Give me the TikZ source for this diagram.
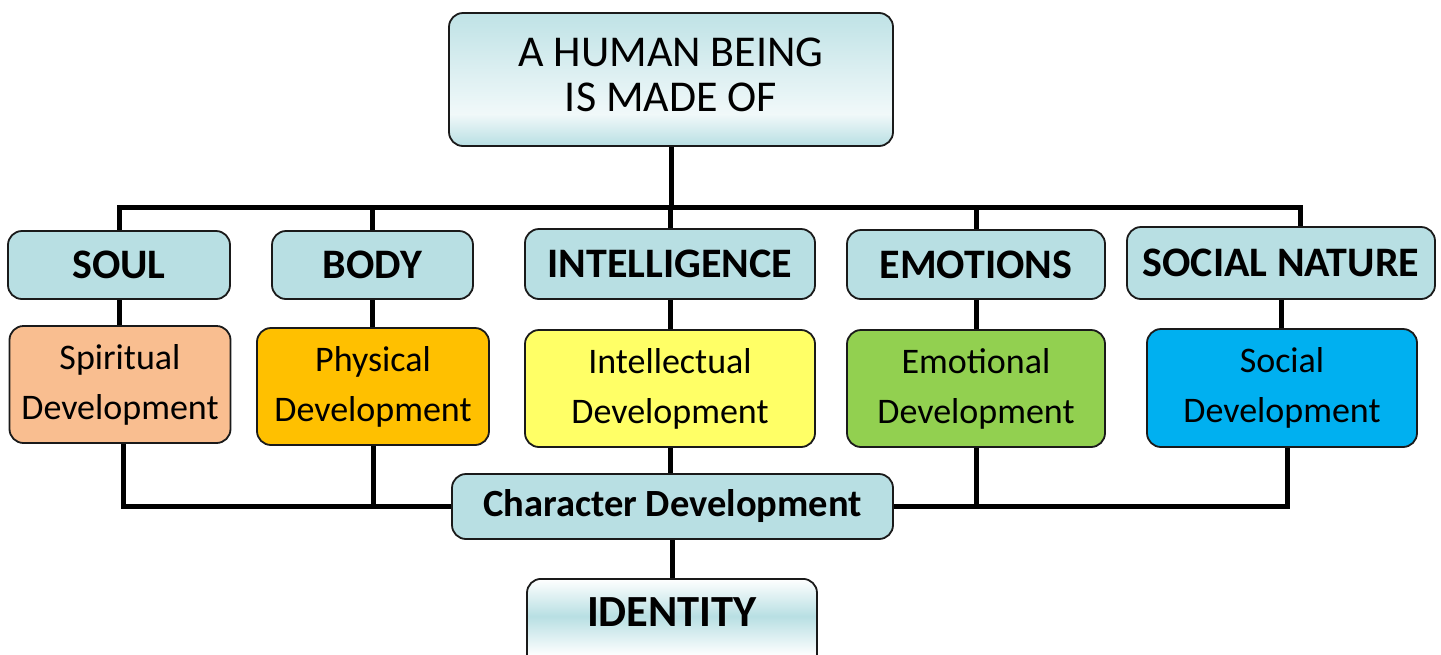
\documentclass[tikz,border=0pt]{standalone}
\usepackage{fontspec}
\setmainfont{Carlito}
\usetikzlibrary{backgrounds}
\definecolor{catblue}{HTML}{B8DFE3}
\definecolor{spircol}{HTML}{F9BE90}
\definecolor{physcol}{HTML}{FFC000}
\definecolor{intcol}{HTML}{FFFF66}
\definecolor{emocol}{HTML}{92D050}
\definecolor{soccol}{HTML}{00B0F0}
\definecolor{edge}{HTML}{1A1A1A}
\pgfdeclareverticalshading{topshade}{100bp}{color(0bp)=(catblue); color(25bp)=(catblue); color(37bp)=(white!80!catblue); color(75bp)=(catblue!90!white); color(100bp)=(catblue!90!white)}
\pgfdeclareverticalshading{idshade}{100bp}{color(0bp)=(white); color(40bp)=(white); color(58bp)=(catblue); color(75bp)=(white); color(100bp)=(white)}
\tikzset{
  box/.style={draw=edge, line width=1.8pt, rounded corners=14pt, inner sep=0pt, align=center},
  catbox/.style={box, fill=catblue, font=\fontsize{42}{48}\selectfont\bfseries},
  devbox/.style={box, fill=#1, font=\fontsize{36}{50}\selectfont},
  conn/.style={line width=5pt, black},
}
\begin{document}
\begin{tikzpicture}[x=1pt,y=-1pt]
\useasboundingbox (0,0) rectangle (1441,654);
\clip (0,0) rectangle (1441,654);
\node[box, shading=topshade, minimum width=444, minimum height=133, text depth=9pt, font=\fontsize{44}{45}\selectfont] (top) at (671,79.5) {A HUMAN BEING\\IS MADE OF};
\node[catbox, minimum width=222, minimum height=68] (soul) at (119,265) {SOUL};
\node[catbox, minimum width=201, minimum height=68] (body) at (372.5,265) {BODY};
\node[catbox, minimum width=290, minimum height=70] (intel) at (670,264) {INTELLIGENCE};
\node[catbox, minimum width=258, minimum height=69] (emot) at (976,264.5) {EMOTIONS};
\node[catbox, minimum width=308, minimum height=72] (socn) at (1281,263) {SOCIAL NATURE};
\node[devbox=spircol, minimum width=221, minimum height=117] (spir) at (120,384.5) {Spiritual\\Development};
\node[devbox=physcol, minimum width=232, minimum height=117] (phys) at (373,386.5) {Physical\\Development};
\node[devbox=intcol, minimum width=290, minimum height=117] (intd) at (670,388.5) {Intellectual\\Development};
\node[devbox=emocol, minimum width=258, minimum height=117] (emod) at (976,388.5) {Emotional\\Development};
\node[devbox=soccol, minimum width=270, minimum height=118] (socd) at (1282,388) {Social\\Development};
\node[catbox, font=\fontsize{38.5}{44}\selectfont\bfseries, minimum width=441, minimum height=65] (char) at (672.5,506.5) {Character Development};
\node[box, shading=idshade, anchor=north, minimum width=290, minimum height=110, text height=28pt, text depth=42pt, font=\fontsize{44.5}{50}\selectfont\bfseries] (ident) at (672,578) {IDENTITY};
\coordinate (bar) at (0,207);
\begin{scope}[on background layer]
\draw[conn] (top.south) -- (top.south |- bar);
\draw[conn] (soul.north) -- (soul.north |- bar) -| ([xshift=19pt]socn.north);
\draw[conn] (body.north) -- (body.north |- bar);
\draw[conn] (intel.north) -- (intel.north |- bar);
\draw[conn] (emot.north) -- (emot.north |- bar);
\draw[conn] (soul.south) -- (spir.north -| soul.south);
\draw[conn] (body.south) -- (phys.north -| body.south);
\draw[conn] (intel.south) -- (intd.north);
\draw[conn] (emot.south) -- (emod.north -| emot.south);
\draw[conn] (socn.south) -- (socd.north -| socn.south);
\draw[conn] ([xshift=3pt]spir.south) |- (char.west);
\draw[conn] (phys.south) -- (phys.south |- char.west);
\draw[conn] (intd.south) -- (char.north -| intd.south);
\draw[conn] (emod.south) -- (emod.south |- char.east);
\draw[conn] (char.east) -| ([xshift=5pt]socd.south);
\draw[conn] (char.south -| ident.north) -- (ident.north);
\end{scope}
\end{tikzpicture}
\end{document}
